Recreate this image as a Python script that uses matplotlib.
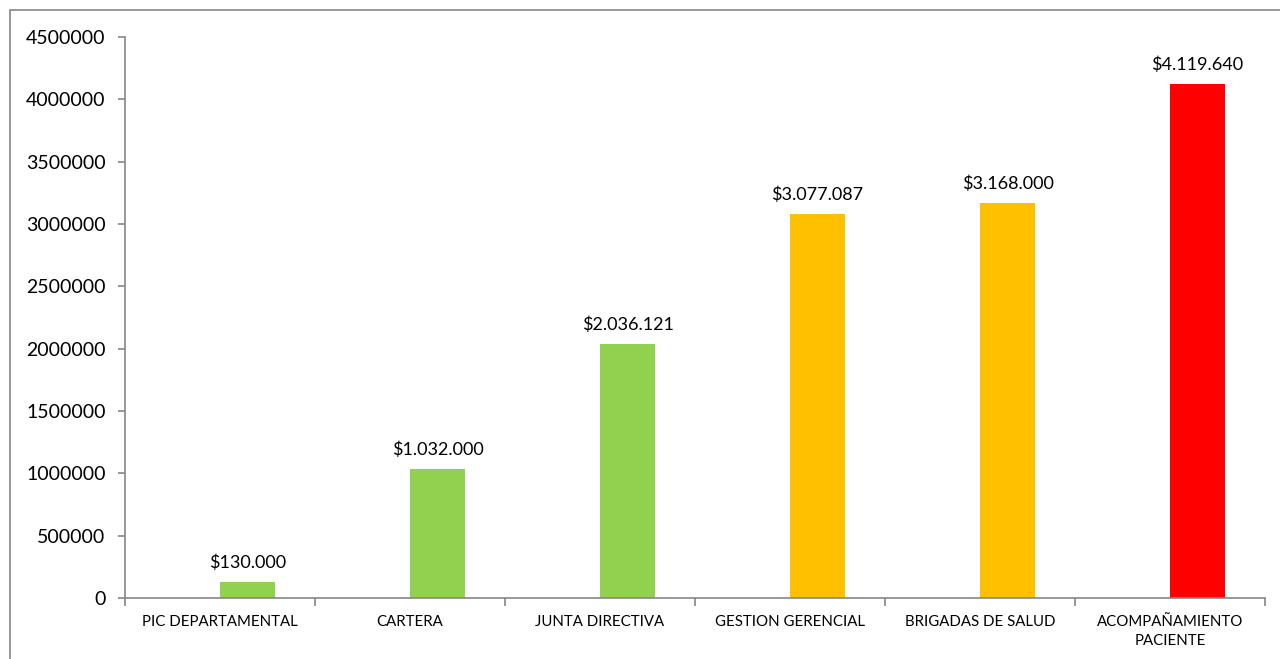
import matplotlib
matplotlib.use("Agg")
import matplotlib.pyplot as plt
from matplotlib.patches import Rectangle
import numpy as np

categories = ["PIC DEPARTAMENTAL", "CARTERA", "JUNTA DIRECTIVA", "GESTION GERENCIAL",
              "BRIGADAS DE SALUD", "ACOMPAÑAMIENTO\nPACIENTE"]
values = [130000, 1032000, 2036121, 3077087, 3168000, 4119640]
labels = ["$130.000", "$1.032.000", "$2.036.121", "$3.077.087", "$3.168.000", "$4.119.640"]
colors = ["#92D050", "#92D050", "#92D050", "#FFC000", "#FFC000", "#FF0000"]
yticks = [0, 500000, 1000000, 1500000, 2000000, 2500000, 3000000, 3500000, 4000000, 4500000]

plt.rcParams['font.family'] = ['Lato', 'DejaVu Sans']

fig = plt.figure(figsize=(12.8, 6.59), dpi=100)
ax = fig.add_axes([125/1280, 1 - 598/659, 1140/1280, (598-37)/659])

x = np.arange(len(categories))
ax.bar(x, values, width=0.29, align='edge', color=colors)
for xi, v, lab in zip(x, values, labels):
    ax.annotate(lab, (xi + 0.145, v), xytext=(0, 8), textcoords='offset points',
                ha='center', va='bottom', fontsize=13, color='#000000')

ax.set_xlim(-0.5, len(categories) - 0.5)
ax.set_ylim(0, 4500000)
ax.set_yticks(yticks)
ax.set_yticklabels([str(t) for t in yticks], fontsize=14, color='#000000')
ax.set_xticks(x)
ax.set_xticklabels(categories, fontsize=10.8, linespacing=1.5, color='#000000')
ax.set_xticks(np.arange(-0.5, len(categories)), minor=True)
ax.tick_params(axis='x', which='major', length=0, pad=12)
ax.tick_params(axis='x', which='minor', length=6, color='#868686', width=1.2)
ax.tick_params(axis='y', length=5, color='#868686', width=1.2, pad=9)
for s in ['top', 'right']:
    ax.spines[s].set_visible(False)
for s in ['left', 'bottom']:
    ax.spines[s].set_color('#868686')
    ax.spines[s].set_linewidth(1.2)

fig.patches.append(Rectangle((10/1280, -0.1), 1.2, 1 - 10/659 + 0.1, transform=fig.transFigure,
                             fill=False, edgecolor='#868686', linewidth=1.2))

fig.savefig("out.png", dpi=100)
